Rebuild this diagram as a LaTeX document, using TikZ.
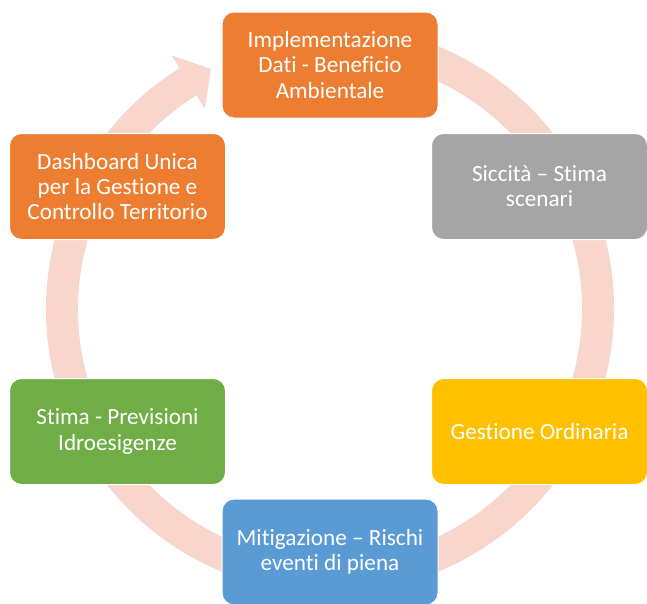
\documentclass[tikz,border=0pt]{standalone}
\usepackage{fontspec}
\setmainfont{Carlito}[Ligatures=NoCommon]
\usetikzlibrary{calc}
\definecolor{ringpink}{HTML}{F8D6CB}
\definecolor{boxorange}{HTML}{ED7D31}
\definecolor{boxgray}{HTML}{A5A5A5}
\definecolor{boxgold}{HTML}{FFC000}
\definecolor{boxblue}{HTML}{5B9BD5}
\definecolor{boxgreen}{HTML}{70AD47}
\begin{document}
\begin{tikzpicture}[x=0.75pt,y=-0.75pt,line width=0.75pt,
  every node/.style={font=\fontsize{17.4}{18.8}\selectfont,text=white,align=center},
  cyclebox/.style={draw=white,rounded corners=9pt,minimum width=162pt,minimum height=79.5pt,inner sep=0pt}]
\useasboundingbox (0,0) rectangle (647,604);
\coordinate (c) at (330,309);
\fill[ringpink] ($(c)+(-80:284)$) arc[start angle=-80,end angle=238,radius=284]
  -- ($(c)+(238:299)$) -- ($(c)+(243.6:268)$) -- ($(c)+(238:236)$)
  -- ($(c)+(238:252)$) arc[start angle=238,end angle=-80,radius=252] -- cycle;
\node[cyclebox,fill=boxorange] (impl) at (330,65) {Implementazione\\Dati - Beneficio\\Ambientale};
\node[cyclebox,fill=boxgray] (sicc) at (539.5,186.5) {Siccità – Stima\\scenari};
\node[cyclebox,fill=boxgold] (gest) at (539.5,431.5) {Gestione Ordinaria};
\node[cyclebox,fill=boxblue] (miti) at (330,552) {Mitigazione – Rischi\\eventi di piena};
\node[cyclebox,fill=boxgreen] (stima) at (117.5,431.5) {Stima - Previsioni\\Idroesigenze};
\node[cyclebox,fill=boxorange] (dash) at (117.5,186.5) {Dashboard Unica\\per la Gestione e\\Controllo Territorio};
\end{tikzpicture}
\end{document}
